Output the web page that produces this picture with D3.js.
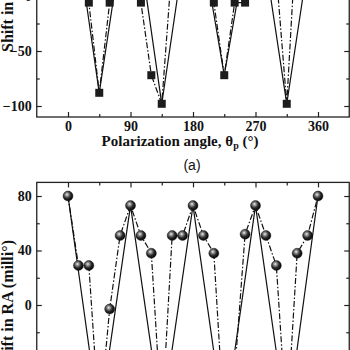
<!DOCTYPE html>
<html>
<head>
<meta charset="utf-8">
<script src="https://cdn.jsdelivr.net/npm/d3@7"></script>
<style>
  html, body { margin: 0; padding: 0; background: #fff; overflow: hidden; }
  svg { display: block; }
</style>
</head>
<body>
<script>
// Polarization angles sampled every 15 degrees
const angles = [0, 15, 30, 45, 60, 75, 90, 105, 120, 135, 150, 165, 180,
                195, 210, 225, 240, 255, 270, 285, 300, 315, 330, 345, 360];
// Shift in declination (milli-degree)
const decShift = [110, 50, -6, -88, -6, 50, 100, -6, -72, -98, 30, 60, 95,
                  50, -6, -72, -6, -6, 90, 60, 20, -98, 70, 60, 90];
// Shift in right ascension (milli-degree)
const raShift = [80, 29, 29, -85, -3, 51, 73, 51, 38, -85, 51, 51, 73,
                 51, 38, -88, -50, 52, 73, 51, 29, -88, 38, 51, 80];
// Angles joined by the solid guide line
const guideAngles = [0, 45, 90, 135, 180, 225, 270, 315, 360];

const angleTicks = [0, 90, 180, 270, 360];
const angleMinor = [45, 135, 225, 315];
const decTicks = [-100, -50, 0, 50, 100];
const decMinor = [-75, -25, 25, 75];
const raTicks = [-80, -40, 0, 40, 80];
const raMinor = [-60, -20, 20, 60];

const W = 350, H = 350;
const serif = "'Liberation Serif', 'Times New Roman', serif";
const sans = "'Liberation Sans', Arial, sans-serif";

const svg = d3.select("body").append("svg")
  .attr("width", W).attr("height", H);

const defs = svg.append("defs");
const grad = defs.append("radialGradient").attr("id", "ball")
  .attr("cx", "40%").attr("cy", "38%").attr("r", "62%")
  .attr("fx", "40%").attr("fy", "35%");
grad.append("stop").attr("offset", "0%").attr("stop-color", "#f4f4f4");
grad.append("stop").attr("offset", "22%").attr("stop-color", "#9a9a9a");
grad.append("stop").attr("offset", "60%").attr("stop-color", "#2a2a2a");
grad.append("stop").attr("offset", "100%").attr("stop-color", "#050505");

const x = d3.scaleLinear().domain([-45, 405]).range([36.75, 349.25]);
const yDec = d3.scaleLinear().domain([-110, 110]).range([117, -125]);
const yRA = d3.scaleLinear().domain([-90, 90]).range([427.6, 182.4]);

function drawPanel(y, values, yTicks, yMinor, markerKind) {
  const g = svg.append("g");
  const [x0, x1] = x.range();
  const [yb, yt] = y.range();

  // tick marks point into the plot on all four sides
  const addAxis = (axis, tf) => {
    const a = g.append("g").attr("transform", tf).call(axis);
    a.select(".domain").remove();
    a.selectAll("line").attr("stroke", "#222").attr("stroke-width", 1.2);
    a.selectAll("text").attr("font-family", serif).attr("font-weight", "bold")
      .attr("font-size", 14).attr("fill", "#111");
    return a;
  };
  addAxis(d3.axisBottom(x).tickValues(angleTicks).tickSize(-5).tickPadding(4), `translate(0,${yb})`);
  addAxis(d3.axisBottom(x).tickValues(angleMinor).tickSize(-3).tickFormat(""), `translate(0,${yb})`);
  addAxis(d3.axisTop(x).tickValues(angleTicks).tickSize(-5).tickFormat(""), `translate(0,${yt})`);
  addAxis(d3.axisTop(x).tickValues(angleMinor).tickSize(-3).tickFormat(""), `translate(0,${yt})`);
  addAxis(d3.axisLeft(y).tickValues(yTicks).tickSize(-5).tickPadding(5), `translate(${x0},0)`);
  addAxis(d3.axisLeft(y).tickValues(yMinor).tickSize(-3).tickFormat(""), `translate(${x0},0)`);
  addAxis(d3.axisRight(y).tickValues(yTicks).tickSize(-5).tickFormat(""), `translate(${x1},0)`);
  addAxis(d3.axisRight(y).tickValues(yMinor).tickSize(-3).tickFormat(""), `translate(${x1},0)`);

  g.append("rect").attr("x", x0).attr("y", yt)
    .attr("width", x1 - x0).attr("height", yb - yt)
    .attr("fill", "none").attr("stroke", "#222").attr("stroke-width", 1.3);

  const pts = angles.map((a, i) => ({ a, v: values[i] }));
  const guide = pts.filter(p => guideAngles.includes(p.a));
  const line = d3.line().x(p => x(p.a)).y(p => y(p.v));

  g.append("path").datum(guide).attr("d", line)
    .attr("fill", "none").attr("stroke", "#111").attr("stroke-width", 1.2);
  g.append("path").datum(pts).attr("d", line)
    .attr("fill", "none").attr("stroke", "#111").attr("stroke-width", 1.2)
    .attr("stroke-dasharray", "6,2,1.5,2");

  if (markerKind === "square") {
    g.selectAll("rect.pt").data(pts).join("rect").attr("class", "pt")
      .attr("x", p => x(p.a) - 4).attr("y", p => y(p.v) - 4)
      .attr("width", 8).attr("height", 8).attr("fill", "#1c1c1c");
  } else {
    g.selectAll("circle.pt").data(pts).join("circle").attr("class", "pt")
      .attr("cx", p => x(p.a)).attr("cy", p => y(p.v)).attr("r", 5)
      .attr("fill", "url(#ball)").attr("stroke", "#111").attr("stroke-width", 0.4);
  }
  return g;
}

drawPanel(yDec, decShift, decTicks, decMinor, "square");
drawPanel(yRA, raShift, raTicks, raMinor, "ball");

// Axis titles
svg.append("text")
  .attr("transform", "translate(13,52) rotate(-90)")
  .attr("text-anchor", "start")
  .attr("font-family", serif).attr("font-weight", "bold").attr("font-size", 16)
  .attr("fill", "#111").text("Shift in Dec (milli°)");

svg.append("text")
  .attr("transform", "translate(13,240) rotate(-90)")
  .attr("text-anchor", "end")
  .attr("font-family", serif).attr("font-weight", "bold").attr("font-size", 16)
  .attr("fill", "#111").text("Shift in RA (milli°)");

const xt = svg.append("text")
  .attr("x", 180).attr("y", 146).attr("text-anchor", "middle")
  .attr("font-family", serif).attr("font-weight", "bold").attr("font-size", 15)
  .attr("fill", "#111");
xt.append("tspan").text("Polarization angle, θ");
xt.append("tspan").attr("font-size", 10).attr("dy", 3).text("p");
xt.append("tspan").attr("dy", -3).text(" (°)");

svg.append("text")
  .attr("x", 192).attr("y", 170).attr("text-anchor", "middle")
  .attr("font-family", sans).attr("font-size", 14).attr("fill", "#111")
  .text("(a)");
</script>
</body>
</html>
